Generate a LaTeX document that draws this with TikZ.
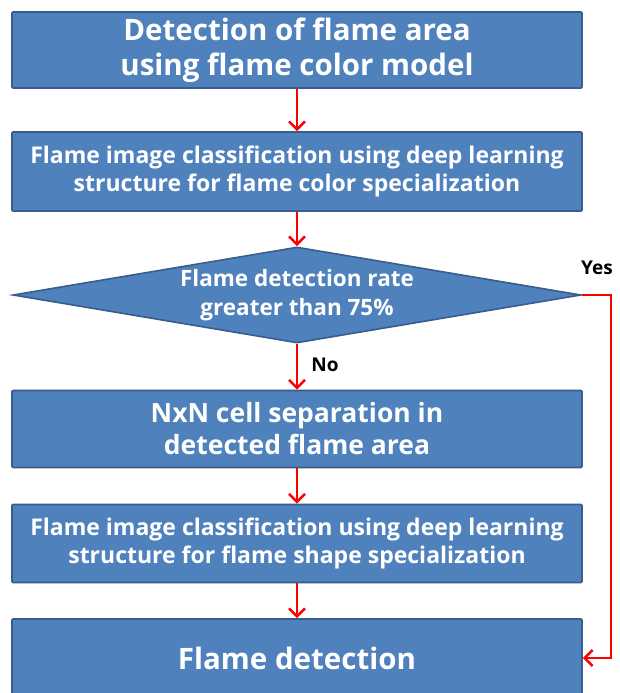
\documentclass[tikz,border=0pt]{standalone}
\usepackage{fontspec}
\setmainfont{Open Sans}
\usetikzlibrary{shapes.geometric,arrows.meta}
\definecolor{boxfill}{HTML}{4F81BD}
\definecolor{boxline}{HTML}{385D8A}
\begin{document}
\begin{tikzpicture}[x=1pt,y=-1pt,
  stepbox/.style={draw=boxline,fill=boxfill,line width=1.6pt,minimum width=570pt,
    text=white,font=\bfseries,align=center,inner sep=0pt,rounded corners=1pt},
  decision/.style={diamond,draw=boxline,fill=boxfill,line width=1.6pt,
    minimum width=568pt,minimum height=96pt,aspect=5.9,inner sep=0pt,
    text=white,font=\bfseries,align=center},
  flow/.style={draw=red,line width=2.5pt,-{Straight Barb[length=8pt,width=16pt,line width=2.5pt]}},
  lbl/.style={font=\bfseries\fontsize{19}{22}\selectfont,text=black}]
\useasboundingbox (0,0) rectangle (620,693);
\clip (0,0) rectangle (620,693);
\fill[white] (0,0) rectangle (620,693);
\node[stepbox,minimum height=76pt,font=\bfseries\fontsize{29.5}{35}\selectfont] (b1) at (297,50)
  {Detection of flame area\\using flame color model};
\node[stepbox,minimum height=79pt,font=\bfseries\fontsize{23}{28}\selectfont] (b2) at (297,171.5)
  {Flame image classification using deep learning\\structure for flame color specialization};
\node[decision,font=\bfseries\fontsize{22.5}{29}\selectfont] (d) at (297,295)
  {Flame detection rate\\greater than 75\%};
\node[stepbox,minimum height=77pt,font=\bfseries\fontsize{26.5}{32}\selectfont] (b3) at (297,429)
  {NxN cell separation in\\detected flame area};
\node[stepbox,minimum height=78pt,font=\bfseries\fontsize{23}{28}\selectfont] (b4) at (297,543.5)
  {Flame image classification using deep learning\\structure for flame shape specialization};
\node[stepbox,minimum height=78pt,font=\bfseries\fontsize{29.5}{30}\selectfont] (b5) at (297,658)
  {Flame detection};
\draw[flow] (b1) -- (b2);
\draw[flow] (b2) -- (d);
\draw[flow] (d) -- (b3);
\draw[flow] (b3) -- (b4);
\draw[flow] (b4) -- (b5);
\coordinate (yc) at (611,295);
\draw[flow] (d.east) -- (yc) |- (b5.east);
\node[lbl] (yes) at (597,268) {Yes};
\node[lbl] (no) at (325,365) {No};
\end{tikzpicture}
\end{document}
